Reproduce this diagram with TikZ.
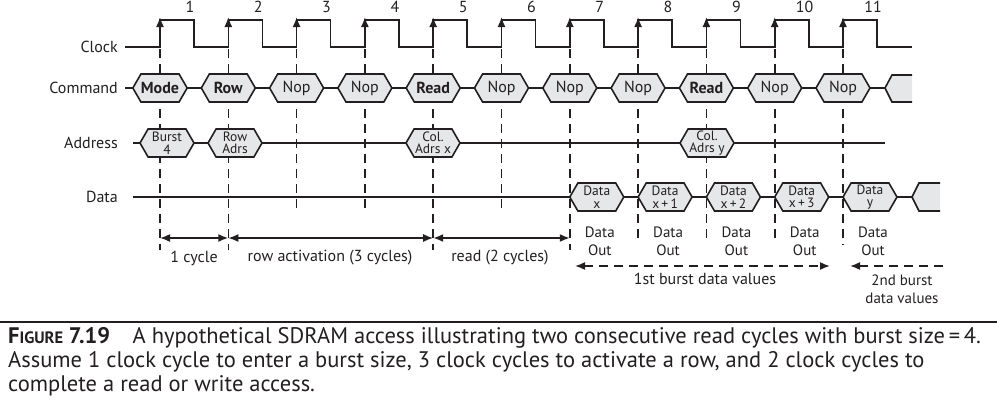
\documentclass[tikz,border=0pt]{standalone}
\usepackage{fontspec}
\setmainfont{PT Sans}
\usetikzlibrary{shapes.symbols,arrows.meta}
\definecolor{hexfill}{HTML}{E6E7E8}
\definecolor{ink}{HTML}{231F20}
\tikzset{
  hex/.style={signal, signal to=west and east, signal pointer angle=120, draw=ink, line width=1.6pt, fill=hexfill,
    minimum width=54pt, minimum height=28pt, inner sep=0pt, text=ink, font=\fontsize{16}{16}\selectfont},
  hexs/.style={hex, font=\fontsize{13.5}{12.5}\selectfont, align=center},
  sig/.style={draw=ink, line width=1.6pt},
  vdash/.style={draw=ink, line width=1.6pt, dash pattern=on 9pt off 6pt},
  lbl/.style={text=ink, font=\fontsize{16}{16}\selectfont},
  sm/.style={text=ink, font=\fontsize{15}{18}\selectfont, align=center},
  arr/.style={{Latex[length=10pt,width=8pt]}-{Latex[length=10pt,width=8pt]}},
}
\begin{document}
\begin{tikzpicture}[x=1pt,y=-1pt]
\useasboundingbox (0,0) rectangle (997,415);
% labels
\node[lbl,anchor=east,inner sep=0pt] (lclk) at (118,47) {Clock};
\node[lbl,anchor=east,inner sep=0pt] (lcmd) at (118,88) {Command};
\node[lbl,anchor=east,inner sep=0pt] (ladr) at (118,143) {Address};
\node[lbl,anchor=east,inner sep=0pt] (ldat) at (118,197) {Data};
% dashed verticals
\foreach \i/\b in {1/250,2/250,3/212,4/212,5/250,6/212,7/250,8/240,9/240,10/240,11/245}{
  \pgfmathsetmacro\e{160+(\i-1)*68.3}
  \draw[vdash] (\e,49) -- (\e,\b);
}
% clock
\draw[sig] (125,47)
  \foreach \i in {1,...,11}{ -- ({160+(\i-1)*68.3},47) -- ({160+(\i-1)*68.3},20) -- ({194+(\i-1)*68.3},20) -- ({194+(\i-1)*68.3},47)} -- (912,47);
\foreach \i in {1,...,11}{
  \pgfmathsetmacro\e{160+(\i-1)*68.3}
  \draw[sig,-{Latex[length=10pt,width=8pt]}] (\e,40) -- (\e,17);
  \node[lbl] (n\i) at (\e+30,7) {\i};
}
% command row
\coordinate (c0) at (125,88);
\coordinate (c1) at (912,88);
\draw[sig] (c0) -- (c1);
\foreach \i/\t in {1/\textbf{Mode},2/\textbf{Row},3/Nop,4/Nop,5/\textbf{Read},6/Nop,7/Nop,8/Nop,9/\textbf{Read},10/Nop,11/Nop}{
  \node[hex] (cmd\i) at ({160+(\i-1)*68.3},88) {\t};
}
\fill[hexfill] (912,75) -- (892,75) -- (885,88) -- (892,102) -- (912,102) -- cycle;
\draw[sig] (912,75) -- (892,75) -- (885,88) -- (892,102) -- (912,102);
% address row
\coordinate (a0) at (133,143);
\coordinate (a1) at (885,143);
\draw[sig] (a0) -- (a1);
\node[hexs] (adr1) at (167,143) {Burst\\4};
\node[hexs] (adr2) at (235,143) {Row\\Adrs};
\node[hexs] (adr3) at (433,143) {Col.\\Adrs x};
\node[hexs] (adr4) at (707,143) {Col.\\Adrs y};
% data row
\coordinate (d0) at (133,197);
\coordinate (d1) at (912,197);
\draw[sig] (d0) -- (d1);
\foreach \i/\t in {7/x,8/x\,+\,1,9/x\,+\,2,10/x\,+\,3,11/y}{
  \node[hexs] (dat\i) at ({187+(\i-1)*68.3},197) {Data\\\t};
}
\fill[hexfill] (940,183) -- (919,183) -- (912,197) -- (919,211) -- (940,211) -- cycle;
\draw[sig] (940,183) -- (919,183) -- (912,197) -- (919,211) -- (940,211);
% dimension arrows
\coordinate (m1) at (160,238);
\coordinate (m2) at (228.3,238);
\coordinate (m3) at (433.2,238);
\coordinate (m4) at (569.8,238);
\draw[sig,arr] (m1) -- (m2);
\draw[sig,arr] (m2) -- (m3);
\draw[sig,arr] (m3) -- (m4);
\node[lbl] (t1) at (194,258) {1 cycle};
\node[lbl] (t2) at (330,258) {row activation (3 cycles)};
\node[lbl] (t3) at (500,258) {read (2 cycles)};
% data out
\foreach \i in {7,...,11}{
  \node[sm] (do\i) at ({190+(\i-1)*68.3},241) {Data\\Out};
}
\coordinate (b1) at (575,266);
\coordinate (b2) at (830,266);
\coordinate (b3) at (850,266);
\coordinate (b4) at (946,266);
\draw[vdash,arr] (b1) -- (b2);
\draw[vdash,{Latex[length=10pt,width=8pt]}-] (b3) -- (b4);
\node[lbl] (t4) at (705,279) {1st burst data values};
\node[sm] (t5) at (902,289) {2nd burst\\data values};
% caption
\draw[ink, line width=2.2pt] (0,322) -- (997,322);
\node[anchor=north west, text=ink, align=left, font=\fontsize{22.5}{24}\selectfont, inner sep=0pt] (cap) at (8,327)
 {{\bfseries F{\fontsize{16.5}{16}\selectfont IGURE} 7.19}\quad A hypothetical SDRAM access illustrating two consecutive read cycles with burst size\,=\,4.\\
 Assume 1 clock cycle to enter a burst size, 3 clock cycles to activate a row, and 2 clock cycles to\\
 complete a read or write access.};
\end{tikzpicture}
\end{document}
